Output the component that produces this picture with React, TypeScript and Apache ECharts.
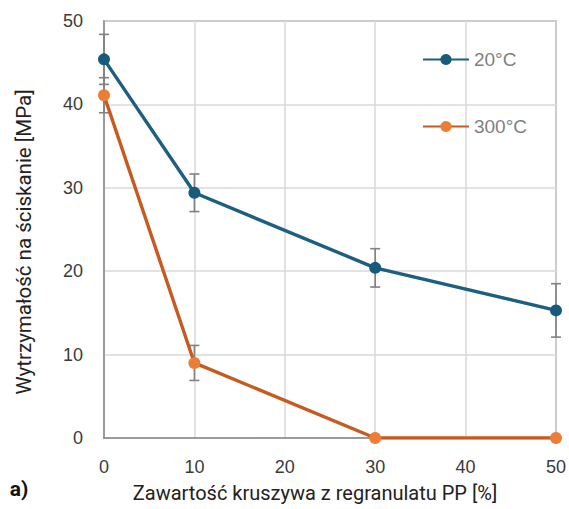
import React, { useEffect, useRef } from "react";
import * as echarts from "echarts";

const xValues = [0, 10, 30, 50];
const series20 = [45.4, 29.4, 20.4, 15.3];
const err20 = [3.0, 2.25, 2.3, 3.2];
const series300 = [41.1, 9.0, 0, 0];
const err300 = [2.1, 2.1, 0, 0];
const seriesNames = ["20°C", "300°C"];
const xTitle = "Zawartość kruszywa z regranulatu PP [%]";
const yTitle = "Wytrzymałość na ściskanie [MPa]";
const panelLabel = "a)";

const BLUE_LINE = "#1c5f80";
const BLUE_MARK = "#175a7c";
const ORANGE_LINE = "#c65a1f";
const ORANGE_MARK = "#ec7d37";

function errorSeries(vals: number[], errs: number[]) {
  const data = xValues
    .map((x, i) => [x, vals[i] - errs[i], vals[i] + errs[i]])
    .filter((d, i) => errs[i] > 0);
  return {
    type: "custom",
    data,
    z: 1,
    silent: true,
    renderItem: (params: any, api: any) => {
      const x = api.value(0);
      const lo = api.coord([x, api.value(1)]);
      const hi = api.coord([x, api.value(2)]);
      const hw = 5;
      const style = { stroke: "#808080", lineWidth: 1.6 };
      return {
        type: "group",
        children: [
          { type: "line", shape: { x1: lo[0], y1: lo[1], x2: hi[0], y2: hi[1] }, style },
          { type: "line", shape: { x1: lo[0] - hw, y1: lo[1], x2: lo[0] + hw, y2: lo[1] }, style },
          { type: "line", shape: { x1: hi[0] - hw, y1: hi[1], x2: hi[0] + hw, y2: hi[1] }, style },
        ],
      };
    },
  };
}

export default function App() {
  const ref = useRef<HTMLDivElement>(null);
  useEffect(() => {
    const chart = echarts.init(ref.current!, null, { renderer: "svg" });
    chart.setOption({
      animation: false,
      backgroundColor: "#ffffff",
      grid: {
        left: 104,
        right: 13,
        top: 21,
        bottom: 71,
        show: true,
        borderColor: "#8a8a8a",
        borderWidth: 1.5,
      },
      legend: {
        orient: "vertical",
        right: 37,
        top: 45,
        itemGap: 48,
        itemWidth: 46,
        itemHeight: 14,
        textStyle: { color: "#7f7f7f", fontSize: 19, fontFamily: "Liberation Sans, Arial, sans-serif" },
        data: seriesNames,
      },
      xAxis: {
        type: "value",
        min: 0,
        max: 50,
        interval: 10,
        axisLine: { show: true, lineStyle: { color: "#8a8a8a", width: 1.5 } },
        axisTick: { show: false },
        splitLine: { lineStyle: { color: "#d9d9d9", width: 1.5 } },
        axisLabel: { color: "#3a3a3a", fontSize: 18, margin: 20, fontFamily: "Liberation Sans, Arial, sans-serif" },
      },
      yAxis: {
        type: "value",
        min: 0,
        max: 50,
        interval: 10,
        axisLine: { show: true, lineStyle: { color: "#8a8a8a", width: 1.5 } },
        axisTick: { show: false },
        splitLine: { lineStyle: { color: "#d9d9d9", width: 1.5 } },
        axisLabel: { color: "#3a3a3a", fontSize: 18, margin: 21, fontFamily: "Liberation Sans, Arial, sans-serif" },
      },
      graphic: [
        {
          type: "text",
          x: 315,
          y: 493,
          style: {
            text: xTitle,
            fontSize: 20,
            fill: "#222",
            fontFamily: "Roboto, sans-serif",
            align: "center",
            verticalAlign: "middle",
          },
        },
        {
          type: "text",
          x: 24,
          y: 242,
          rotation: Math.PI / 2,
          style: {
            text: yTitle,
            fontSize: 20.5,
            fill: "#222",
            fontFamily: "Roboto, sans-serif",
            align: "center",
            verticalAlign: "middle",
          },
        },
        {
          type: "text",
          x: 19,
          y: 489,
          style: {
            text: panelLabel,
            fontSize: 21,
            fontWeight: "bold",
            fill: "#111",
            fontFamily: "Roboto, sans-serif",
            align: "center",
            verticalAlign: "middle",
          },
        },
      ],
      series: [
        errorSeries(series20, err20),
        errorSeries(series300, err300),
        {
          name: seriesNames[0],
          type: "line",
          z: 3,
          data: xValues.map((x, i) => [x, series20[i]]),
          symbol: "circle",
          symbolSize: 12,
          lineStyle: { color: BLUE_LINE, width: 3.4 },
          itemStyle: { color: BLUE_MARK },
        },
        {
          name: seriesNames[1],
          type: "line",
          z: 3,
          data: xValues.map((x, i) => [x, series300[i]]),
          symbol: "circle",
          symbolSize: 12,
          lineStyle: { color: ORANGE_LINE, width: 3.4 },
          itemStyle: { color: ORANGE_MARK },
        },
      ],
    });
    return () => chart.dispose();
  }, []);
  return (
    <div
      ref={ref}
      style={{ position: "fixed", left: 0, top: 0, width: 569, height: 509 }}
    />
  );
}
